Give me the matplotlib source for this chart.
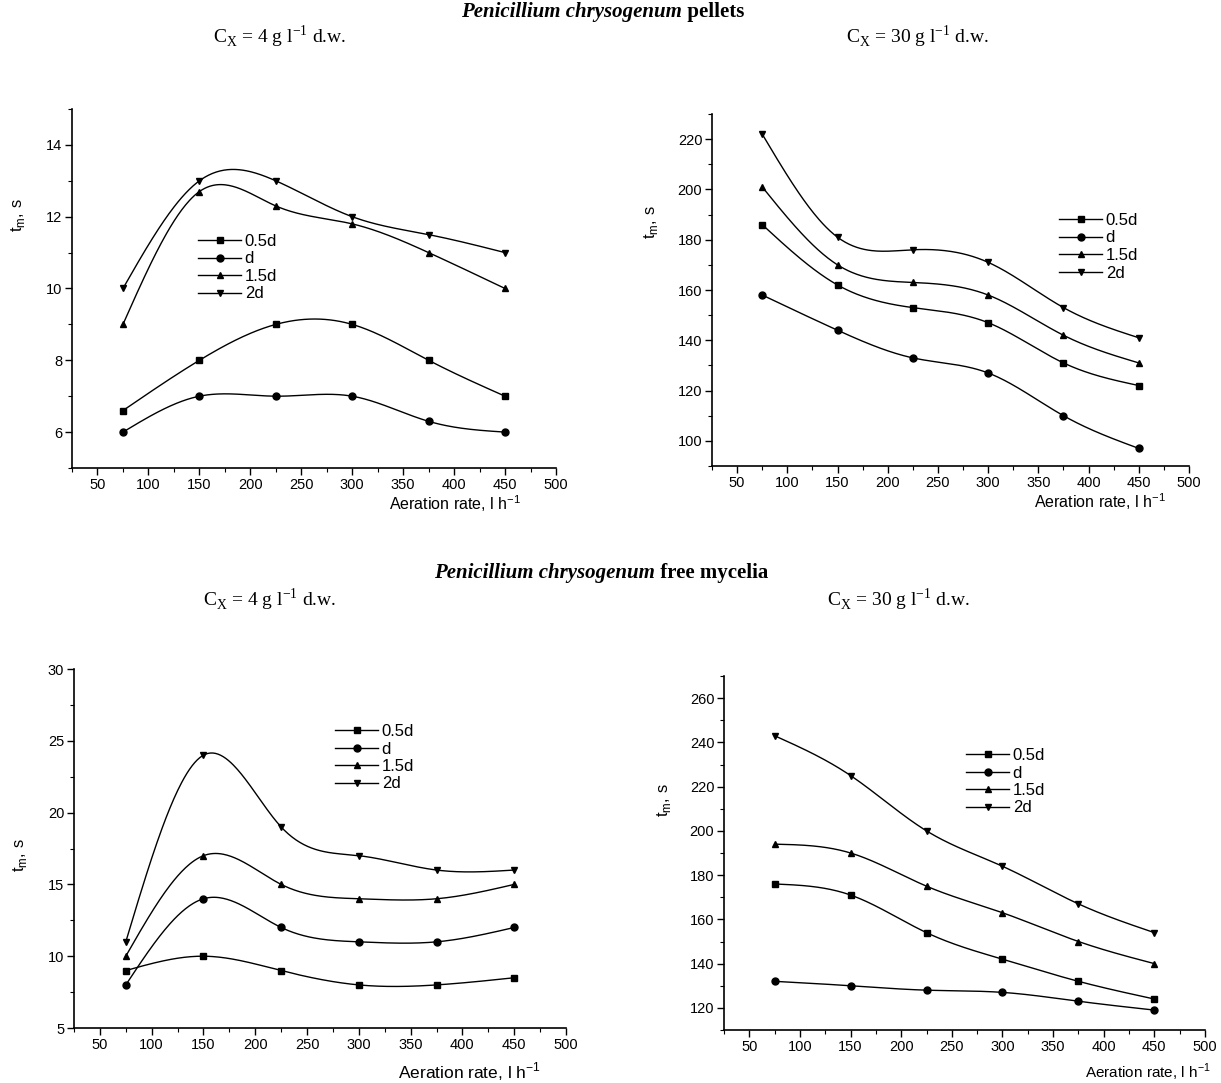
import numpy as np
import matplotlib
matplotlib.use("Agg")
import matplotlib.pyplot as plt
from matplotlib.ticker import MultipleLocator

plt.rcParams['font.family'] = ['Liberation Sans', 'DejaVu Sans']
plt.rcParams['mathtext.fontset'] = 'custom'
plt.rcParams['mathtext.rm'] = 'Liberation Sans'

W, H = 1221, 1083

aeration = [75, 150, 225, 300, 375, 450]
labels = ['0.5d', 'd', '1.5d', '2d']
markers = ['s', 'o', '^', 'v']

# pellets, Cx = 4 g/l
pel4_05d = [6.6, 8.0, 9.0, 9.0, 8.0, 7.0]
pel4_d = [6.0, 7.0, 7.0, 7.0, 6.3, 6.0]
pel4_15d = [9.0, 12.7, 12.3, 11.8, 11.0, 10.0]
pel4_2d = [10.0, 13.0, 13.0, 12.0, 11.5, 11.0]

# pellets, Cx = 30 g/l
pel30_05d = [186, 162, 153, 147, 131, 122]
pel30_d = [158, 144, 133, 127, 110, 97]
pel30_15d = [201, 170, 163, 158, 142, 131]
pel30_2d = [222, 181, 176, 171, 153, 141]

# free mycelia, Cx = 4 g/l
myc4_05d = [9.0, 10.0, 9.0, 8.0, 8.0, 8.5]
myc4_d = [8.0, 14.0, 12.0, 11.0, 11.0, 12.0]
myc4_15d = [10.0, 17.0, 15.0, 14.0, 14.0, 15.0]
myc4_2d = [11.0, 24.0, 19.0, 17.0, 16.0, 16.0]

# free mycelia, Cx = 30 g/l
myc30_05d = [176, 171, 154, 142, 132, 124]
myc30_d = [132, 130, 128, 127, 123, 119]
myc30_15d = [194, 190, 175, 163, 150, 140]
myc30_2d = [243, 225, 200, 184, 167, 154]


def spline(x, y, n=300):
    # natural cubic spline, like Origin's "spline" connection
    x = np.asarray(x, float)
    y = np.asarray(y, float)
    k = len(x)
    h = np.diff(x)
    A = np.zeros((k, k))
    b = np.zeros(k)
    A[0, 0] = A[-1, -1] = 1
    for i in range(1, k - 1):
        A[i, i - 1] = h[i - 1]
        A[i, i] = 2 * (h[i - 1] + h[i])
        A[i, i + 1] = h[i]
        b[i] = 6 * ((y[i + 1] - y[i]) / h[i] - (y[i] - y[i - 1]) / h[i - 1])
    M = np.linalg.solve(A, b)
    xs = np.linspace(x[0], x[-1], n)
    idx = np.clip(np.searchsorted(x, xs) - 1, 0, k - 2)
    x0, x1 = x[idx], x[idx + 1]
    hh = x1 - x0
    t0, t1 = x1 - xs, xs - x0
    ys = (M[idx] * t0 ** 3 + M[idx + 1] * t1 ** 3) / (6 * hh) \
        + (y[idx] / hh - M[idx] * hh / 6) * t0 + (y[idx + 1] / hh - M[idx + 1] * hh / 6) * t1
    return xs, ys


def make_axes(fig, l, r, t, b):
    return fig.add_axes([l / W, 1 - b / H, (r - l) / W, (b - t) / H])


def fig_to_axes(ax, px, py):
    return ax.transAxes.inverted().transform(fig.transFigure.transform((px / W, 1 - py / H)))


def draw_panel(ax, series, ylim, ymaj, ymin, leg_xy, ylab_pos, xlab_pos, xlab_size=12.5):
    for vals, lab, m in zip(series, labels, markers):
        xs, ys = spline(aeration, vals)
        ax.plot(xs, ys, color='black', lw=1.0)
        ax.plot(aeration, vals, ls='none', marker=m, ms=5, color='black')
        ax.plot([], [], color='black', lw=1.0, marker=m, ms=5, label=lab)
    ax.set_xlim(25, 500)
    ax.set_ylim(*ylim)
    ax.xaxis.set_major_locator(MultipleLocator(50))
    ax.xaxis.set_minor_locator(MultipleLocator(25))
    ax.yaxis.set_major_locator(MultipleLocator(ymaj))
    ax.yaxis.set_minor_locator(MultipleLocator(ymin))
    for s in ['top', 'right']:
        ax.spines[s].set_visible(False)
    for s in ['left', 'bottom']:
        ax.spines[s].set_linewidth(1.2)
    ax.tick_params(which='major', direction='out', length=5, width=1, labelsize=10.5, pad=2)
    ax.tick_params(which='minor', direction='out', length=3, width=0.8)
    ax.set_xticks([50, 100, 150, 200, 250, 300, 350, 400, 450, 500])
    ax.set_ylabel(r't$_\mathregular{m}$, s', fontsize=12, va='center')
    ax.set_xlabel(r'Aeration rate, l h$^\mathregular{-1}$', fontsize=xlab_size, va='center')
    ax.yaxis.set_label_coords(*fig_to_axes(ax, *ylab_pos))
    ax.xaxis.set_label_coords(*fig_to_axes(ax, *xlab_pos))
    ax.legend(loc='upper left', bbox_to_anchor=(leg_xy[0] / W, 1 - leg_xy[1] / H),
              bbox_transform=fig.transFigure, frameon=False, fontsize=12,
              handlelength=2.6, handletextpad=0.2, labelspacing=0.15,
              borderpad=0, borderaxespad=0, numpoints=1)


fig = plt.figure(figsize=(W / 100, H / 100), dpi=100)

ax1 = make_axes(fig, 72, 556, 109, 468)
draw_panel(ax1, [pel4_05d, pel4_d, pel4_15d, pel4_2d], (5, 15), 2, 1,
           (198, 234), (18, 215), (455, 504), 11.5)
ax2 = make_axes(fig, 712, 1189, 114, 466)
draw_panel(ax2, [pel30_05d, pel30_d, pel30_15d, pel30_2d], (90, 230), 20, 10,
           (1059, 213), (651, 222), (1100, 502), 11.5)
ax3 = make_axes(fig, 74, 566, 669, 1028)
draw_panel(ax3, [myc4_05d, myc4_d, myc4_15d, myc4_2d], (5, 30), 5, 2.5,
           (335, 724), (20, 855), (469, 1072))
ax4 = make_axes(fig, 724, 1205, 676, 1030)
draw_panel(ax4, [myc30_05d, myc30_d, myc30_15d, myc30_2d], (110, 270), 20, 10,
           (966, 748), (664, 800), (1148, 1072), 11)

# headings
serif = ['Liberation Serif', 'DejaVu Serif']
fig.text(682 / W, 1 - 12 / H, 'Penicillium chrysogenum', ha='right', va='center',
         fontsize=15, fontweight='bold', style='italic', family=serif)
fig.text(682 / W, 1 - 12 / H, ' pellets', ha='left', va='center',
         fontsize=15, fontweight='bold', family=serif)
fig.text(655 / W, 1 - 573 / H, 'Penicillium chrysogenum', ha='right', va='center',
         fontsize=15, fontweight='bold', style='italic', family=serif)
fig.text(655 / W, 1 - 573 / H, ' free mycelia', ha='left', va='center',
         fontsize=15, fontweight='bold', family=serif)

plt.rcParams['mathtext.rm'] = 'Liberation Serif'
sub4 = r'C$_\mathregular{X}$ = 4 g l$^\mathregular{-1}$ d.w.'
sub30 = r'C$_\mathregular{X}$ = 30 g l$^\mathregular{-1}$ d.w.'
fig.text(280 / W, 1 - 37 / H, sub4, ha='center', va='center', fontsize=14, family=serif)
fig.text(918 / W, 1 - 37 / H, sub30, ha='center', va='center', fontsize=14, family=serif)
fig.text(270 / W, 1 - 600 / H, sub4, ha='center', va='center', fontsize=14, family=serif)
fig.text(899 / W, 1 - 600 / H, sub30, ha='center', va='center', fontsize=14, family=serif)

fig.savefig('out.png', dpi=100, facecolor='white')
